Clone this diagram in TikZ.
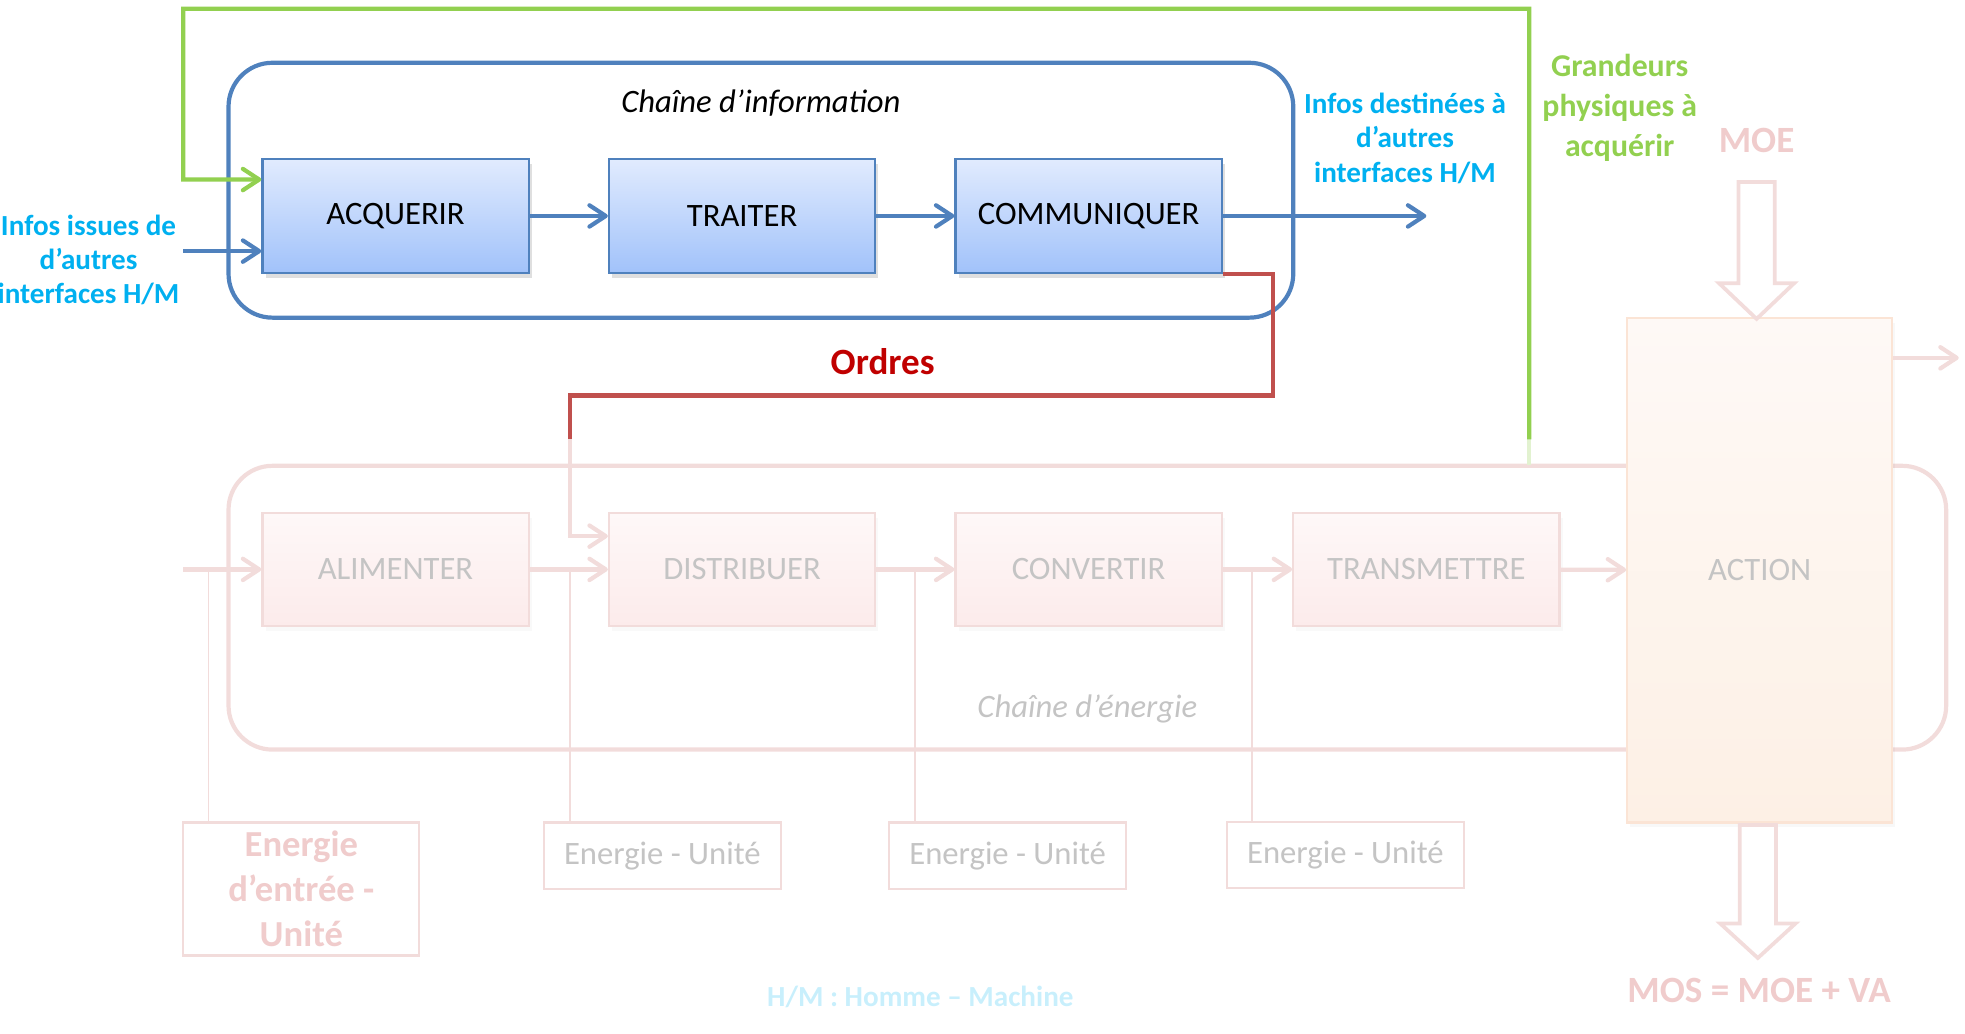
\documentclass[tikz,border=0pt]{standalone}
\usepackage{fontspec}
\setmainfont{Carlito}
\usetikzlibrary{arrows.meta,shadows,calc}

\definecolor{infoline}{HTML}{4F81BD}
\definecolor{infotop}{HTML}{E1EBFE}
\definecolor{infobot}{HTML}{A1C2FA}
\definecolor{infocyan}{HTML}{00B0F0}
\definecolor{grandgreen}{HTML}{92D050}
\definecolor{grandpale}{HTML}{E2F2D0}
\definecolor{ordline}{HTML}{C0504D}
\definecolor{ordtext}{HTML}{C00000}
\definecolor{paleline}{HTML}{F2DCDB}
\definecolor{paletext}{HTML}{F0CCCC}
\definecolor{greytext}{HTML}{C4C4C4}
\definecolor{enertop}{HTML}{FEF8F8}
\definecolor{enerbot}{HTML}{FCEBEB}
\definecolor{acttop}{HTML}{FEF9F6}
\definecolor{actbot}{HTML}{FDF0E5}
\definecolor{actline}{HTML}{FBE4D5}
\definecolor{hmtext}{HTML}{C8EFFC}

\begin{document}
\begin{tikzpicture}[
    infobox/.style={rectangle, draw=infoline, line width=0.5pt, top color=infotop, bottom color=infobot,
      minimum width=2.12cm, minimum height=0.91cm,
      drop shadow={opacity=0.25, shadow xshift=0.25mm, shadow yshift=-0.4mm},
      font=\fontsize{7.4pt}{9pt}\selectfont},
    enerbox/.style={rectangle, draw=paleline, line width=0.5pt, top color=enertop, bottom color=enerbot,
      minimum width=2.12cm, minimum height=0.9cm, text=greytext,
      drop shadow={opacity=0.05, shadow xshift=0.25mm, shadow yshift=-0.4mm},
      font=\fontsize{7.4pt}{9pt}\selectfont},
    unitbox/.style={rectangle, draw=paleline, line width=0.5pt, fill=white,
      minimum width=1.89cm, minimum height=0.53cm, text=greytext, font=\fontsize{7.4pt}{9pt}\selectfont},
    barb/.style={-{Straight Barb[length=1.3mm, width=1.7mm, line cap=round, line join=round]}},
    infoarrow/.style={draw=infoline, line width=0.95pt, barb},
    greenarrow/.style={draw=grandgreen, line width=0.95pt, barb},
    palearrow/.style={draw=paleline, line width=0.95pt, barb},
    paletap/.style={draw=paleline, line width=0.4pt},
    blockarrow/.style={draw=paleline, line width=0.85pt, fill=white, line join=miter},
    cyanlbl/.style={align=center, text=infocyan, font=\bfseries\fontsize{6.6pt}{7.8pt}\selectfont},
    bigpink/.style={align=center, text=paletext, font=\bfseries\fontsize{8.4pt}{10.2pt}\selectfont},
  ]
  \useasboundingbox (0cm, 0cm) rectangle (15.65cm, -8.235cm);

  \draw [paleline, line width=0.95pt, rounded corners=0.35cm] (1.82cm, -3.71cm) rectangle (15.50cm, -5.97cm);
  \node (t_ener) [text=greytext, font=\itshape\fontsize{7.4pt}{9pt}\selectfont] at (8.66cm, -5.65cm) {Chaîne d’énergie};

  \node (n_ali) [enerbox] at (3.15cm, -4.535cm) {ALIMENTER};
  \node (n_dis) [enerbox] at (5.91cm, -4.535cm) {DISTRIBUER};
  \node (n_con) [enerbox] at (8.67cm, -4.535cm) {CONVERTIR};
  \node (n_tra) [enerbox] at (11.36cm, -4.535cm) {TRANSMETTRE};
  \node (n_act) [rectangle, draw=actline, line width=0.5pt, top color=acttop, bottom color=actbot,
    minimum width=2.11cm, minimum height=4.02cm, text=greytext,
    drop shadow={opacity=0.06, shadow xshift=0.25mm, shadow yshift=-0.4mm},
    font=\fontsize{7.4pt}{9pt}\selectfont] at (14.015cm, -4.54cm) {ACTION};

  \node (n_e0) [unitbox, minimum width=1.88cm, minimum height=1.06cm, inner sep=0.5pt, text=paletext,
    align=center, font=\bfseries\fontsize{8.3pt}{10.2pt}\selectfont] at (2.40cm, -7.08cm) {Energie\\d’entrée -\\Unité};
  \node (n_e1) [unitbox] at (5.275cm, -6.815cm) {Energie - Unité};
  \node (n_e2) [unitbox] at (8.025cm, -6.815cm) {Energie - Unité};
  \node (n_e3) [unitbox] at (10.715cm, -6.81cm) {Energie - Unité};

  \coordinate (e_in) at (1.46cm, -4.535cm);
  \coordinate (a_out) at (15.60cm, -2.85cm);
  \draw (e_in) edge [palearrow] (n_ali);
  \draw (n_ali) edge [palearrow] (n_dis);
  \draw (n_dis) edge [palearrow] (n_con);
  \draw (n_con) edge [palearrow] (n_tra);
  \draw (n_tra) edge [palearrow] (n_act);
  \draw [palearrow] (n_act.east |- a_out) -- (a_out);

  \coordinate (t_0) at (1.66cm, -4.535cm);
  \coordinate (t_1) at (4.54cm, -4.535cm);
  \coordinate (t_2) at (7.29cm, -4.535cm);
  \coordinate (t_3) at (9.97cm, -4.535cm);
  \draw [paletap] (t_0) -- (t_0 |- n_e0.north);
  \draw [paletap] (t_1) -- (t_1 |- n_e1.north);
  \draw [paletap] (t_2) -- (t_2 |- n_e2.north);
  \draw [paletap] (t_3) -- (t_3 |- n_e3.north);

  \draw [blockarrow] (13.845cm, -1.45cm) -- (14.135cm, -1.45cm) -- (14.135cm, -2.255cm) -- (14.29cm, -2.255cm)
    -- (13.99cm, -2.54cm) -- (13.69cm, -2.255cm) -- (13.845cm, -2.255cm) -- cycle;
  \draw [blockarrow] (13.855cm, -6.57cm) -- (14.145cm, -6.57cm) -- (14.145cm, -7.355cm) -- (14.30cm, -7.355cm)
    -- (14.00cm, -7.63cm) -- (13.70cm, -7.355cm) -- (13.855cm, -7.355cm) -- cycle;
  \node (t_moe) [bigpink] at (13.99cm, -1.12cm) {MOE};
  \node (t_mos) [bigpink] at (14.01cm, -7.89cm) {MOS = MOE + VA};

  \draw [infoline, line width=0.95pt, rounded corners=0.35cm] (1.82cm, -0.50cm) rectangle (10.30cm, -2.53cm);
  \node (t_info) [font=\itshape\fontsize{7.4pt}{9pt}\selectfont] at (6.06cm, -0.82cm) {Chaîne d’information};

  \node (n_acq) [infobox] at (3.15cm, -1.72cm) {ACQUERIR};
  \node (n_trt) [infobox] at (5.91cm, -1.72cm) {TRAITER};
  \node (n_com) [infobox] at (8.67cm, -1.72cm) {COMMUNIQUER};

  \coordinate (i_in) at (1.46cm, -2.00cm);
  \coordinate (i_out) at (11.36cm, -1.72cm);
  \draw [infoarrow] (i_in) -- (i_in -| n_acq.west);
  \draw (n_acq) edge [infoarrow] (n_trt);
  \draw (n_trt) edge [infoarrow] (n_com);
  \draw (n_com) edge [infoarrow] (i_out);

  \coordinate (o_mid) at (4.54cm, -3.50cm);
  \draw [ordline, line width=0.95pt] (n_com.south east) -| (10.14cm, -3.15cm) -| (o_mid);
  \draw [palearrow] (o_mid) |- ($(n_dis.west)+(0,0.265cm)$);
  \node (t_ord) [text=ordtext, font=\bfseries\fontsize{8.4pt}{10pt}\selectfont] at (7.03cm, -2.88cm) {Ordres};

  \coordinate (g_src) at (12.18cm, -3.70cm);
  \coordinate (g_mid) at (12.18cm, -3.50cm);
  \draw [grandpale, line width=0.95pt] (g_src) -- (g_mid);
  \draw [greenarrow] (g_mid) -- (12.18cm, -0.07cm) -| (1.46cm, -1.43cm) -- ($(n_acq.west)+(0,0.29cm)$);

  \node (t_issues) [cyanlbl] at (0.705cm, -2.07cm) {Infos issues de\\d’autres\\interfaces H/M};
  \node (t_dest) [cyanlbl] at (11.19cm, -1.10cm) {Infos destinées à\\d’autres\\interfaces H/M};
  \node (t_grand) [align=center, text=grandgreen, font=\bfseries\fontsize{7.2pt}{9.1pt}\selectfont] at (12.90cm, -0.86cm) {Grandeurs\\physiques à\\acquérir};
  \node (t_hm) [text=hmtext, font=\bfseries\fontsize{6.6pt}{7.8pt}\selectfont] at (7.33cm, -7.94cm) {H/M : Homme – Machine};
\end{tikzpicture}
\end{document}
